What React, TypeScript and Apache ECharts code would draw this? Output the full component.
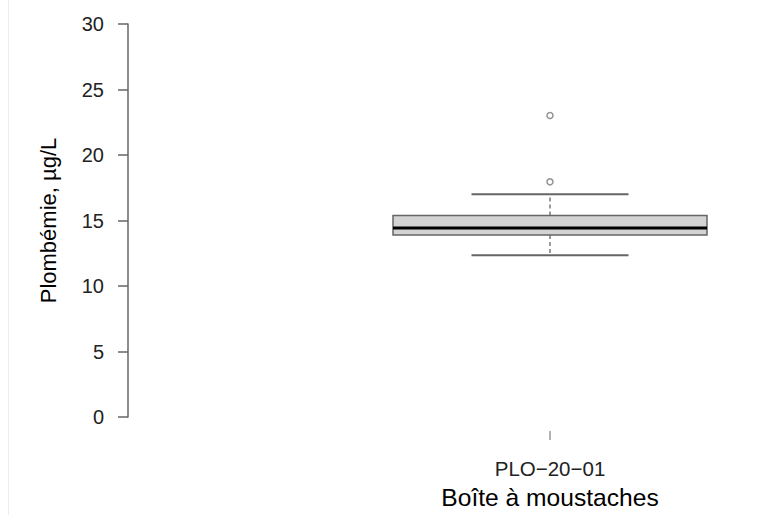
import React, { useEffect, useRef } from "react";
import * as echarts from "echarts";

const categories = ["PLO−20−01"];
// [low whisker, Q1, median, Q3, high whisker]
const boxStats = [[12.35, 13.9, 14.42, 15.38, 17.0]];
const outliers = [
  [0, 23.02],
  [0, 17.95],
];
const yTicks = { min: 0, max: 30, interval: 5 };

export default function App() {
  const ref = useRef<HTMLDivElement>(null);
  useEffect(() => {
    const chart = echarts.init(ref.current!, null, { renderer: "svg" });
    const font = "Liberation Sans, Arial, sans-serif";
    chart.setOption({
      animation: false,
      backgroundColor: "#ffffff",
      grid: { left: 393, right: 759 - 707, top: 24, bottom: 515 - 418 },
      xAxis: {
        type: "category",
        data: categories,
        offset: 14,
        axisLine: { show: false },
        axisTick: { show: false },
        axisLabel: { margin: 27, fontSize: 20.5, color: "#222", fontFamily: font },
        name: "Boîte à moustaches",
        nameLocation: "middle",
        nameGap: 54,
        nameTextStyle: { fontSize: 24.6, color: "#000", fontFamily: font },
        splitLine: { show: false },
      },
      yAxis: {
        type: "value",
        min: yTicks.min,
        max: yTicks.max,
        interval: yTicks.interval,
        offset: 393 - 128,
        axisLine: { show: true, lineStyle: { color: "#666", width: 1.5 } },
        axisTick: { show: true, length: 10, lineStyle: { color: "#666", width: 1.5 } },
        axisLabel: { margin: 24, fontSize: 20, color: "#222", fontFamily: font },
        splitLine: { show: false },
        name: "Plombémie, µg/L",
        nameLocation: "middle",
        nameGap: 69,
        nameTextStyle: { fontSize: 22, color: "#000", fontFamily: font },
      },
      graphic: [
        {
          type: "line",
          shape: { x1: 8.5, y1: 0, x2: 8.5, y2: 515 },
          style: { stroke: "#eeeeee", lineWidth: 1 },
          silent: true,
        },
      ],
      series: [
        {
          type: "custom",
          data: boxStats.map((s, i) => [i, ...s]),
          encode: { x: 0, y: [1, 2, 3, 4, 5] },
          clip: false,
          renderItem: (params: any, api: any) => {
            const idx = api.value(0);
            const low = api.coord([idx, api.value(1)]);
            const q1 = api.coord([idx, api.value(2)]);
            const med = api.coord([idx, api.value(3)]);
            const q3 = api.coord([idx, api.value(4)]);
            const high = api.coord([idx, api.value(5)]);
            const base = api.coord([idx, yTicks.min]);
            const band = api.size([1, 0])[0];
            const half = band / 2;
            const wh = band / 4;
            const cx = low[0];
            const gray = "#666";
            return {
              type: "group",
              children: [
                {
                  type: "line",
                  shape: { x1: cx, y1: base[1] + 14, x2: cx, y2: base[1] + 23 },
                  style: { stroke: gray, lineWidth: 1 },
                },
                {
                  type: "line",
                  shape: { x1: cx, y1: q3[1], x2: cx, y2: high[1] },
                  style: { stroke: gray, lineWidth: 1.3, lineDash: [4, 3] },
                },
                {
                  type: "line",
                  shape: { x1: cx, y1: q1[1], x2: cx, y2: low[1] },
                  style: { stroke: gray, lineWidth: 1.3, lineDash: [4, 3] },
                },
                {
                  type: "line",
                  shape: { x1: cx - wh, y1: high[1], x2: cx + wh, y2: high[1] },
                  style: { stroke: gray, lineWidth: 2 },
                },
                {
                  type: "line",
                  shape: { x1: cx - wh, y1: low[1], x2: cx + wh, y2: low[1] },
                  style: { stroke: gray, lineWidth: 2 },
                },
                {
                  type: "rect",
                  shape: { x: cx - half, y: q3[1], width: band, height: q1[1] - q3[1] },
                  style: { fill: "#d3d3d3", stroke: gray, lineWidth: 1.5 },
                },
                {
                  type: "line",
                  shape: { x1: cx - half, y1: med[1], x2: cx + half, y2: med[1] },
                  style: { stroke: "#000", lineWidth: 3 },
                },
              ],
            };
          },
        },
        {
          type: "scatter",
          data: outliers,
          symbol: "circle",
          symbolSize: 6,
          itemStyle: { color: "#fff", borderColor: "#777", borderWidth: 1.5 },
        },
      ],
    });
    return () => chart.dispose();
  }, []);
  return (
    <div
      ref={ref}
      style={{ position: "absolute", left: 0, top: 0, width: 759, height: 515 }}
    />
  );
}
